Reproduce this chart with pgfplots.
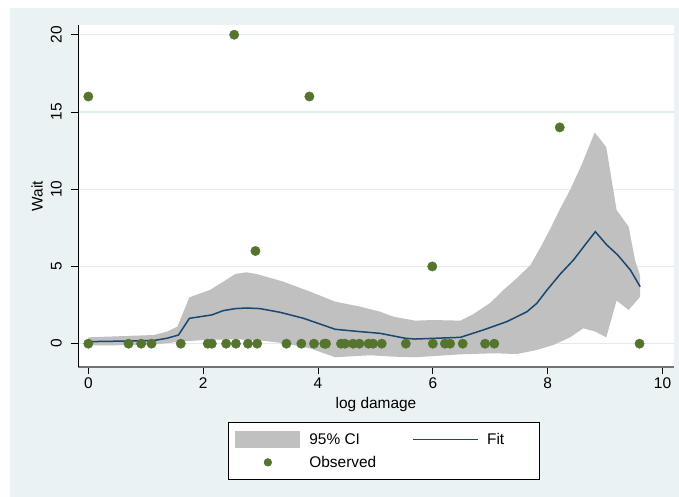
\documentclass[border=0pt]{standalone}
\usepackage{fontspec}
\setmainfont{Liberation Sans}
\usepackage{pgfplots}
\pgfplotsset{compat=1.18}

\definecolor{stbg}{RGB}{234,242,243}
\definecolor{stgrid}{RGB}{226,235,238}
\definecolor{cigray}{RGB}{192,192,192}
\definecolor{fitblue}{RGB}{26,71,111}
\definecolor{obsgreen}{RGB}{85,117,47}

\begin{document}
\begin{tikzpicture}[x=1bp,y=1bp,font=\fontsize{15.5}{18}\selectfont]
% image pixel (X,Y) -> (X-78, 367-Y)
\fill[white] (-78,367) rectangle (601,-130);
\fill[stbg] (-68,359) rectangle (601,-130);
\begin{axis}[
  at={(0,0)}, anchor=south west,
  scale only axis, width=596bp, height=342bp,
  xmin=-0.18, xmax=10.2, ymin=-1.51, ymax=20.63,
  axis lines*=left,
  axis background/.style={fill=white},
  x axis line style={draw=black!55, line width=1.8bp},
  y axis line style={draw=black, line width=0.8bp},
  tick align=outside, major tick length=7bp,
  tick style={black, line width=0.8bp},
  xtick={0,2,...,10}, ytick={0,5,...,20},
  ymajorgrids, grid style={stgrid, line width=1.2bp},
  /pgf/number format/assume math mode=true,
  xticklabel style={inner sep=0pt, anchor=north},
  xticklabel shift=4bp,
  yticklabel style={rotate=90, inner sep=0pt, anchor=south},
  yticklabel shift=9bp,
  xlabel={log damage}, ylabel={Wait},
  xlabel style={at={(axis description cs:0.5,-0.111)}, anchor=center},
  ylabel style={at={(axis description cs:-0.0688,0.5)}, anchor=center},
  legend columns=2,
  legend cell align=left,
  legend style={at={(axis description cs:0.513,-0.161)}, anchor=north,
    draw=black, line width=0.6bp, fill=white,
    inner xsep=7bp, inner ysep=5.5bp,
    nodes={inner sep=0pt, anchor=west}},
]
% 95% CI band: upper edge left to right, lower edge right to left
\addplot[fill=cigray, draw=none,
  legend image code/.code={
    \path[draw=none, fill=none] (0,-11.5bp) rectangle (74bp,11.5bp);
    \fill[cigray] (0,-8.5bp) rectangle (65bp,8.5bp);}]
coordinates {
 (0,0.41) (1.14,0.56) (1.37,0.78) (1.55,1.10) (1.76,3.00) (2.12,3.48)
 (2.35,4.01) (2.56,4.51) (2.75,4.62) (2.93,4.51) (3.40,4.01) (3.86,3.37)
 (4.30,2.72) (4.73,2.40) (5.08,2.07) (5.31,1.75) (5.69,1.49) (6.01,1.53)
 (6.48,1.49) (6.70,1.90) (7.00,2.64) (7.23,3.48) (7.46,4.23) (7.70,5.09)
 (7.87,6.20) (8.04,7.40) (8.22,8.76) (8.39,9.95) (8.59,11.57) (8.82,13.68)
 (9.02,12.72) (9.20,8.65) (9.41,7.57) (9.52,5.42) (9.61,4.40)
 (9.61,3.04) (9.41,2.18) (9.20,2.79) (9.02,0.41) (8.83,0.78) (8.62,1.00)
 (8.39,0.41) (8.10,-0.08) (7.81,-0.41) (7.46,-0.67) (7.06,-0.62) (6.48,-0.69)
 (5.69,-0.88) (5.31,-0.84) (4.91,-0.75) (4.30,-0.88) (3.86,-0.30) (3.40,0.03)
 (2.93,0.24) (2.59,0.28) (2.01,0.24) (1.60,0.13) (1.10,-0.08) (0,-0.12)
};
\addlegendentry{\makebox[103bp][l]{95\% CI}}

% fitted line
\addplot[fitblue, line width=1.5bp,
  legend image code/.code={
    \path[draw=none, fill=none] (0,-11.5bp) rectangle (74bp,11.5bp);
    \draw[fitblue, line width=1.5bp] (0,0) -- (65bp,0);}]
coordinates {
 (0,0.13) (1.13,0.20) (1.37,0.35) (1.57,0.56) (1.76,1.64) (2.15,1.86)
 (2.35,2.14) (2.56,2.27) (2.76,2.31) (2.99,2.27) (3.34,2.03) (3.75,1.64)
 (4.30,0.93) (4.73,0.78) (5.08,0.67) (5.52,0.35) (5.69,0.30) (6.48,0.41)
 (6.88,0.89) (7.29,1.43) (7.64,2.07) (7.81,2.61) (7.99,3.48) (8.22,4.51)
 (8.45,5.42) (8.65,6.39) (8.83,7.25) (9.03,6.39) (9.22,5.74) (9.44,4.77)
 (9.61,3.69)
};
\addlegendentry{\makebox[45bp][l]{Fit}}

% observed points
\addplot[obsgreen, only marks, mark=*, mark size=4.7bp,
  mark options={fill=obsgreen, draw=none},
  legend image code/.code={
    \path[draw=none, fill=none] (0,-11.5bp) rectangle (74bp,11.5bp);
    \fill[obsgreen] (32.5bp,0) circle (3.8bp);}]
coordinates {
 (0,0) (0,16) (0.70,0) (0.92,0) (1.10,0) (1.61,0) (2.08,0) (2.15,0)
 (2.40,0) (2.54,20) (2.57,0) (2.78,0) (2.91,6) (2.94,0) (3.45,0) (3.71,0)
 (3.85,16) (3.93,0) (4.11,0) (4.14,0) (4.40,0) (4.47,0) (4.61,0) (4.72,0)
 (4.88,0) (4.96,0) (5.11,0) (5.53,0) (5.99,5) (6.00,0) (6.21,0) (6.30,0)
 (6.52,0) (6.91,0) (7.07,0) (8.21,14) (9.60,0)
};
\addlegendentry{Observed}
\end{axis}
\pgfresetboundingbox
\useasboundingbox (-78,367) rectangle (601,-130);
\end{tikzpicture}
\end{document}
